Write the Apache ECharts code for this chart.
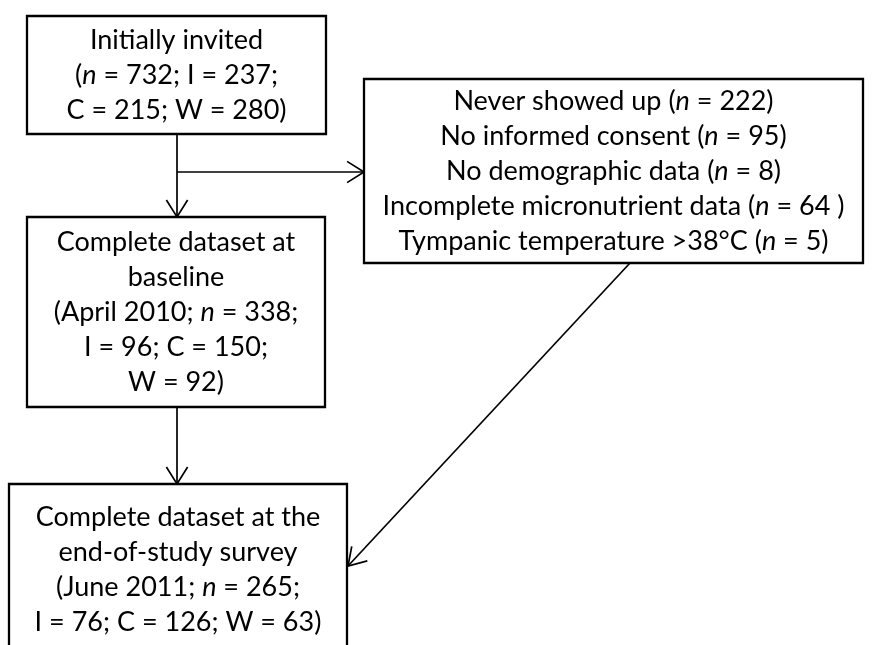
<!DOCTYPE html>
<html>
<head>
<meta charset="utf-8">
<script src="https://cdn.jsdelivr.net/npm/echarts@6/dist/echarts.min.js"></script>
<style>
  html, body { margin: 0; padding: 0; background: #fff; }
  #chart { width: 884px; height: 645px; }
</style>
</head>
<body>
<div id="chart"></div>
<script>
// counts: n, I, C, W
const invited = [732, 237, 215, 280]
const baseline = [338, 96, 150, 92]
const endline = [265, 76, 126, 63]
const baselineDate = 'April 2010'
const endlineDate = 'June 2011'
const exclusionReasons = ['Never showed up', 'No informed consent', 'No demographic data', 'Incomplete micronutrient data', 'Tympanic temperature >38°C']
const exclusionCounts = [222, 95, 8, '64 ', 5]

// box texts (the {i|n} token is italic)
const boxTexts = [
  ['Initially invited', '({i|n} = ' + invited[0] + '; I = ' + invited[1] + ';', 'C = ' + invited[2] + '; W = ' + invited[3] + ')'],
  exclusionReasons.map((r, k) => r + ' ({i|n} = ' + exclusionCounts[k] + ')'),
  ['Complete dataset at', 'baseline', '(' + baselineDate + '; {i|n} = ' + baseline[0] + ';', 'I = ' + baseline[1] + '; C = ' + baseline[2] + ';', 'W = ' + baseline[3] + ')'],
  ['Complete dataset at the', 'end-of-study survey', '(' + endlineDate + '; {i|n} = ' + endline[0] + ';', 'I = ' + endline[1] + '; C = ' + endline[2] + '; W = ' + endline[3] + ')']
]

// layout (axis units = pixels): x1, y1, x2, y2
const boxLayout = [
  [27, 16, 326, 134],
  [364, 79, 863, 263],
  [27, 217, 325, 407],
  [9, 484, 347, 656]
]
const arrowLayout = [
  [177, 134, 177, 217],
  [177, 172, 364, 172],
  [177, 407, 177, 484],
  [630, 263, 348, 566]
]

const FONT = 'Lato, "Open Sans", sans-serif'
const FS = 27

const chart = echarts.init(document.getElementById('chart'))

function renderBox (params, api) {
  const p1 = api.coord([api.value(0), api.value(1)])
  const p2 = api.coord([api.value(2), api.value(3)])
  const lines = boxTexts[params.dataIndex]
  return {
    type: 'group',
    children: [
      {
        type: 'rect',
        shape: { x: p1[0], y: p1[1], width: p2[0] - p1[0], height: p2[1] - p1[1] },
        style: { fill: '#fff', stroke: '#000', lineWidth: 2.3 }
      },
      {
        type: 'text',
        x: (p1[0] + p2[0]) / 2,
        y: (p1[1] + p2[1]) / 2,
        style: {
          text: lines.join('\n'),
          fill: '#000',
          fontFamily: FONT,
          fontSize: FS,
          lineHeight: 35,
          align: 'center',
          verticalAlign: 'middle',
          rich: {
            i: { fontStyle: 'italic', fontFamily: FONT, fontSize: FS, lineHeight: 35, fill: '#000' }
          }
        }
      }
    ]
  }
}

function renderArrow (params, api) {
  const a = api.coord([api.value(0), api.value(1)])
  const b = api.coord([api.value(2), api.value(3)])
  const ang = Math.atan2(b[1] - a[1], b[0] - a[0])
  const len = 20
  const spread = 0.56
  const w1 = [b[0] - len * Math.cos(ang - spread), b[1] - len * Math.sin(ang - spread)]
  const w2 = [b[0] - len * Math.cos(ang + spread), b[1] - len * Math.sin(ang + spread)]
  return {
    type: 'group',
    children: [
      { type: 'line', shape: { x1: a[0], y1: a[1], x2: b[0], y2: b[1] }, style: { stroke: '#000', lineWidth: 1.7 } },
      { type: 'polyline', shape: { points: [w1, b, w2] }, style: { stroke: '#000', lineWidth: 1.7, fill: null } }
    ]
  }
}

chart.setOption({
  animation: false,
  grid: { left: 0, right: 0, top: 0, bottom: 0 },
  xAxis: { type: 'value', min: 0, max: 884, show: false },
  yAxis: { type: 'value', min: 0, max: 645, inverse: true, show: false },
  series: [
    { type: 'custom', renderItem: renderArrow, data: arrowLayout, z: 1 },
    { type: 'custom', renderItem: renderBox, data: boxLayout, z: 2 }
  ]
})
</script>
</body>
</html>
